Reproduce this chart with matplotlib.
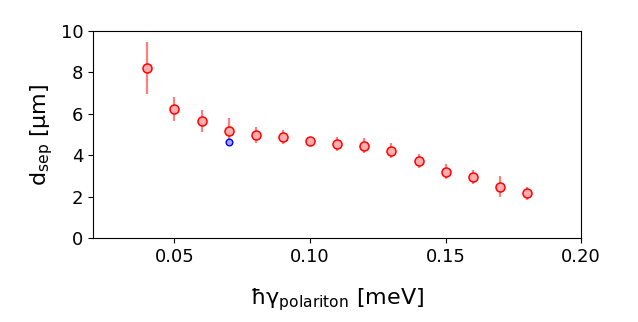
import matplotlib
matplotlib.use("Agg")
import matplotlib.pyplot as plt
import numpy as np

# linewidth (meV) vs separation distance
gamma = [0.04, 0.05, 0.06, 0.07, 0.08, 0.09, 0.10, 0.11, 0.12, 0.13, 0.14, 0.15, 0.16, 0.17, 0.18]
dsep = [8.2, 6.23, 5.65, 5.17, 4.98, 4.88, 4.69, 4.53, 4.46, 4.22, 3.72, 3.2, 2.93, 2.47, 2.16]
dsep_err = [1.25, 0.58, 0.53, 0.62, 0.38, 0.33, 0.1, 0.35, 0.36, 0.38, 0.33, 0.37, 0.33, 0.5, 0.31]

# single extra point
gamma_b = [0.07]
dsep_b = [4.64]

fig = plt.figure(figsize=(6.38, 3.22), dpi=100)
ax = fig.add_axes([0.146, 0.261, 0.765, 0.643])

ax.errorbar(gamma, dsep, yerr=dsep_err, fmt='none', ecolor='red', alpha=0.5, elinewidth=1.6)
ax.plot(gamma, dsep, 'o', ms=6.5, mfc=(1, 0.68, 0.68), mec='red', mew=1.1)
ax.plot(gamma_b, dsep_b, 'o', ms=4.8, mfc=(0.65, 0.65, 1), mec='blue', mew=1.0)

ax.set_xlim(0.02, 0.20)
ax.set_ylim(0, 10)
ax.set_xticks([0.05, 0.10, 0.15, 0.20])
ax.set_xticklabels(['0.05', '0.10', '0.15', '0.20'])
ax.set_yticks([0, 2, 4, 6, 8, 10])
ax.tick_params(labelsize=13)
ax.set_xlabel('ħγ$_{\\mathrm{polariton}}$ [meV]', fontsize=16, labelpad=15)
ax.set_ylabel('d$_{\\mathrm{sep}}$ [µm]', fontsize=16)

fig.savefig('out.png', dpi=100)
